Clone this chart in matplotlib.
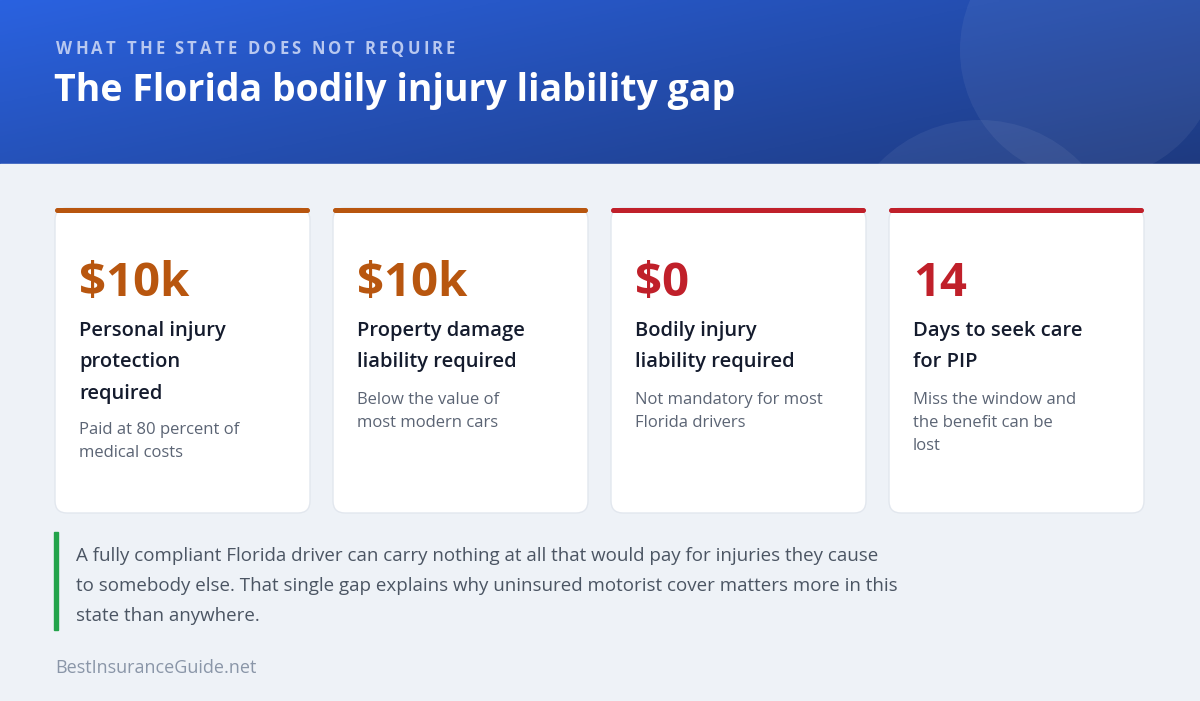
import numpy as np
import matplotlib.pyplot as plt
from matplotlib.patches import FancyBboxPatch, Rectangle, Circle

values = ["$10k", "$10k", "$0", "14"]
labels = ["Personal injury\nprotection\nrequired", "Property damage\nliability required",
          "Bodily injury\nliability required", "Days to seek care\nfor PIP"]
notes = ["Paid at 80 percent of\nmedical costs", "Below the value of\nmost modern cars",
         "Not mandatory for most\nFlorida drivers", "Miss the window and\nthe benefit can be\nlost"]
accents = ["#b8560f", "#b8560f", "#c0202a", "#c0202a"]
kicker = "WHAT THE STATE DOES NOT REQUIRE"
title = "The Florida bodily injury liability gap"
quote = ("A fully compliant Florida driver can carry nothing at all that would pay for injuries they cause\n"
         "to somebody else. That single gap explains why uninsured motorist cover matters more in this\n"
         "state than anywhere.")
footer = "BestInsuranceGuide.net"

plt.rcParams['font.family'] = ['Open Sans', 'DejaVu Sans']
W, H = 1200, 701
fig = plt.figure(figsize=(12, 7.01), dpi=100)
ax = fig.add_axes([0, 0, 1, 1])
ax.set_xlim(0, W)
ax.set_ylim(H, 0)
ax.axis('off')
fig.patch.set_facecolor("#eef2f7")

# header gradient
gx, gy = np.meshgrid(np.linspace(0, 1, 300), np.linspace(0, 1, 60))
t = np.clip(0.6 * gx + 0.4 * gy, 0, 1)[..., None]
c0 = np.array([0x2a, 0x62, 0xe0]) / 255
c1 = np.array([0x1e, 0x3a, 0x80]) / 255
ax.imshow(c0 * (1 - t) + c1 * t, extent=[0, W, 164, 0], aspect='auto', zorder=0)
for cx, cy, r in [(1090, 50, 130), (980, 260, 140)]:
    ax.add_patch(Circle((cx, cy), r, fc="white", ec="none", alpha=0.06, zorder=1))
ax.add_patch(Rectangle((0, 164), W, H, color="#eef2f7", zorder=2))

# letter-spaced kicker
fig.canvas.draw()
r = fig.canvas.get_renderer()
x = 56
for ch in kicker:
    tx = ax.text(x, 49, ch, color="#b8c8f0", fontsize=12, fontweight='bold', va='center', zorder=3)
    w = tx.get_window_extent(r).width if ch != " " else 4
    x += w + 3.2
ax.text(54, 91, title, color="white", fontsize=27, fontweight='bold', va='center', zorder=3)

card_x = [55, 333, 611, 889]
cw, top, bot = 255, 208, 513
for i in range(4):
    x0 = card_x[i]
    ax.add_patch(FancyBboxPatch((x0, top), cw, bot - top, boxstyle="round,pad=0,rounding_size=12",
                                fc="white", ec="#e2e7ee", lw=1, zorder=3))
    ax.add_patch(FancyBboxPatch((x0, top), cw, 5, boxstyle="round,pad=0,rounding_size=2.5",
                                fc=accents[i], ec="none", zorder=4))
    ax.text(x0 + 24, 283, values[i], color=accents[i], fontsize=34, fontweight='bold', va='center', zorder=5)
    ax.text(x0 + 24, 321, labels[i], color="#141b2d", fontsize=14.5, fontweight='semibold', va='top',
            linespacing=1.75, zorder=5)
    nl = labels[i].count("\n") + 1
    ax.text(x0 + 24, 392 + (nl - 2) * 30, notes[i], color="#5b6474", fontsize=12, va='top',
            linespacing=1.6, zorder=5)

ax.add_patch(Rectangle((54, 532), 3.5, 98, color="#22a34a", zorder=3))
ax.text(76, 547, quote, color="#4b5563", fontsize=13.5, va='top', linespacing=1.85, zorder=5)
ax.text(55, 668, footer, color="#8a96a8", fontsize=13, va='center', zorder=5)

fig.savefig("out.png", dpi=100, facecolor=fig.get_facecolor())
